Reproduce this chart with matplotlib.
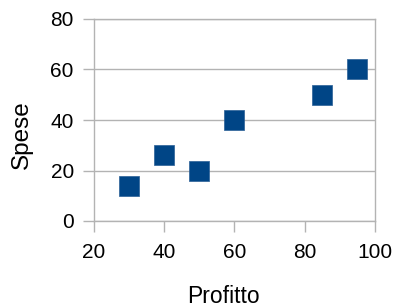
import matplotlib
matplotlib.use("Agg")
import matplotlib.pyplot as plt

# data
profitto = [30, 40, 50, 60, 85, 95]
spese = [14, 26, 20, 40, 50, 60]
x_ticks = [20, 40, 60, 80, 100]
y_ticks = [0, 20, 40, 60, 80]

plt.rcParams["font.family"] = ["Liberation Sans", "DejaVu Sans"]

fig = plt.figure(figsize=(3.94, 3.07), dpi=100)
ax = fig.add_axes([94 / 394, 1 - 221 / 307, 281 / 394, 202 / 307])

grid_col = "#b3b3b3"
ax.set_xlim(20, 100)
ax.set_ylim(0, 80)
ax.set_xticks(x_ticks)
ax.set_yticks(y_ticks)
ax.yaxis.grid(True, color=grid_col, linewidth=1)
ax.set_axisbelow(True)

ax.scatter(profitto, spese, marker="s", s=14 ** 2, color="#004586",
           edgecolors="#2a5f96", linewidths=0.5, zorder=3)

for sp in ax.spines.values():
    sp.set_color(grid_col)
    sp.set_linewidth(1)

ax.tick_params(axis="both", colors=grid_col, length=8, width=1,
               labelcolor="black", labelsize=15)
ax.tick_params(axis="x", pad=7.5)
ax.tick_params(axis="y", pad=6.5)

ax.set_xlabel("Profitto", fontsize=16.5)
ax.set_ylabel("Spese", fontsize=17.5)
ax.xaxis.set_label_coords(0.459, -0.317)
ax.yaxis.set_label_coords(-0.218, 0.426)

fig.savefig("out.png", dpi=100)
